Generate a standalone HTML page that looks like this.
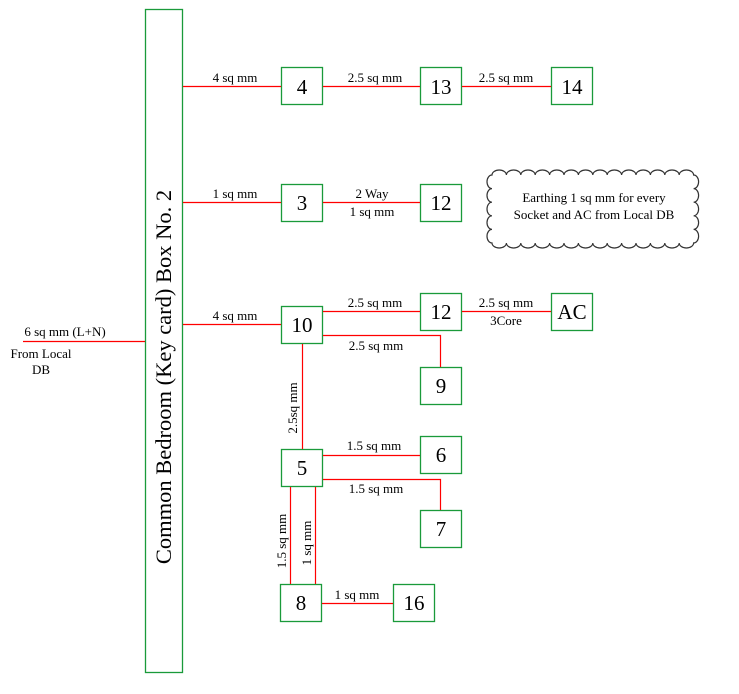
<!DOCTYPE html>
<html><head><meta charset="utf-8"><style>
html,body{margin:0;padding:0;background:#fff;}
svg text{font-family:"Liberation Serif",serif;fill:#000;}
.l{font-size:13px;}
.b{font-size:21px;}
</style></head><body>
<svg width="739" height="689" viewBox="0 0 739 689" xmlns="http://www.w3.org/2000/svg">
<g fill="#fff" stroke="#1a9a3a" stroke-width="1.3">
<rect x="145.5" y="9.5" width="37" height="663"/>
<rect x="281.5" y="67.5" width="41" height="37"/>
<rect x="420.5" y="67.5" width="41" height="37"/>
<rect x="551.5" y="67.5" width="41" height="37"/>
<rect x="281.5" y="184.5" width="41" height="37"/>
<rect x="420.5" y="184.5" width="41" height="37"/>
<rect x="281.5" y="306.5" width="41" height="37"/>
<rect x="420.5" y="293.5" width="41" height="37"/>
<rect x="551.5" y="293.5" width="41" height="37"/>
<rect x="420.5" y="367.5" width="41" height="37"/>
<rect x="281.5" y="449.5" width="41" height="37"/>
<rect x="420.5" y="436.5" width="41" height="37"/>
<rect x="420.5" y="510.5" width="41" height="37"/>
<rect x="280.5" y="584.5" width="41" height="37"/>
<rect x="393.5" y="584.5" width="41" height="37"/>
</g>
<g stroke="#f00" stroke-width="1.2" fill="none">
<line x1="23" y1="341.5" x2="145" y2="341.5"/>
<line x1="183" y1="86.5" x2="281" y2="86.5"/>
<line x1="323" y1="86.5" x2="420" y2="86.5"/>
<line x1="462" y1="86.5" x2="551" y2="86.5"/>
<line x1="183" y1="202.5" x2="281" y2="202.5"/>
<line x1="323" y1="202.5" x2="420" y2="202.5"/>
<line x1="183" y1="324.5" x2="281" y2="324.5"/>
<line x1="323" y1="311.5" x2="420" y2="311.5"/>
<line x1="462" y1="311.5" x2="551" y2="311.5"/>
<polyline points="323,335.5 440.5,335.5 440.5,367"/>
<line x1="302.5" y1="344" x2="302.5" y2="449"/>
<line x1="323" y1="455.5" x2="420" y2="455.5"/>
<polyline points="323,479.5 440.5,479.5 440.5,510"/>
<line x1="290.5" y1="487" x2="290.5" y2="584"/>
<line x1="315.5" y1="487" x2="315.5" y2="584"/>
<line x1="322" y1="603.5" x2="393" y2="603.5"/>
</g>
<path fill="#fff" stroke="#333" stroke-width="1.2" d="M492,175 a7.2 5 0 0 1 14.4 0 a7.2 5 0 0 1 14.4 0 a7.2 5 0 0 1 14.4 0 a7.2 5 0 0 1 14.4 0 a7.2 5 0 0 1 14.4 0 a7.2 5 0 0 1 14.4 0 a7.2 5 0 0 1 14.4 0 a7.2 5 0 0 1 14.4 0 a7.2 5 0 0 1 14.4 0 a7.2 5 0 0 1 14.4 0 a7.2 5 0 0 1 14.4 0 a7.2 5 0 0 1 14.4 0 a7.2 5 0 0 1 14.4 0 a7.2 5 0 0 1 14.4 0 a5 6.8 0 0 1 0 13.6 a5 6.8 0 0 1 0 13.6 a5 6.8 0 0 1 0 13.6 a5 6.8 0 0 1 0 13.6 a5 6.8 0 0 1 0 13.6 a7.2 5 0 0 1 -14.4 0 a7.2 5 0 0 1 -14.4 0 a7.2 5 0 0 1 -14.4 0 a7.2 5 0 0 1 -14.4 0 a7.2 5 0 0 1 -14.4 0 a7.2 5 0 0 1 -14.4 0 a7.2 5 0 0 1 -14.4 0 a7.2 5 0 0 1 -14.4 0 a7.2 5 0 0 1 -14.4 0 a7.2 5 0 0 1 -14.4 0 a7.2 5 0 0 1 -14.4 0 a7.2 5 0 0 1 -14.4 0 a7.2 5 0 0 1 -14.4 0 a7.2 5 0 0 1 -14.4 0 a5 6.8 0 0 1 0 -13.6 a5 6.8 0 0 1 0 -13.6 a5 6.8 0 0 1 0 -13.6 a5 6.8 0 0 1 0 -13.6 a5 6.8 0 0 1 0 -13.6 Z"/>
<text class="l" x="594" y="202" text-anchor="middle">Earthing 1 sq mm for every</text>
<text class="l" x="594" y="219" text-anchor="middle">Socket and AC from Local DB</text>

<text x="171" y="377" font-size="22.5" text-anchor="middle" transform="rotate(-90 171 377)">Common Bedroom (Key card) Box No. 2</text>

<g class="b" text-anchor="middle">
<text x="302" y="94">4</text>
<text x="441" y="94">13</text>
<text x="572" y="94">14</text>
<text x="302" y="210">3</text>
<text x="441" y="210">12</text>
<text x="302" y="332">10</text>
<text x="441" y="319">12</text>
<text x="572" y="319">AC</text>
<text x="441" y="393">9</text>
<text x="302" y="475">5</text>
<text x="441" y="462">6</text>
<text x="441" y="536">7</text>
<text x="301" y="610">8</text>
<text x="414" y="610">16</text>
</g>
<g class="l" text-anchor="middle">
<text x="235" y="82">4 sq mm</text>
<text x="375" y="82">2.5 sq mm</text>
<text x="506" y="82">2.5 sq mm</text>
<text x="235" y="198">1 sq mm</text>
<text x="372" y="198">2 Way</text>
<text x="372" y="216">1 sq mm</text>
<text x="235" y="320">4 sq mm</text>
<text x="375" y="307">2.5 sq mm</text>
<text x="506" y="307">2.5 sq mm</text>
<text x="506" y="325">3Core</text>
<text x="376" y="350">2.5 sq mm</text>
<text x="374" y="450">1.5 sq mm</text>
<text x="376" y="493">1.5 sq mm</text>
<text x="357" y="599">1 sq mm</text>
<text x="65" y="336">6 sq mm (L+N)</text>
<text x="41" y="358">From Local</text>
<text x="41" y="374">DB</text>
</g>
<g class="l" text-anchor="middle">
<text x="297" y="408" transform="rotate(-90 297 408)">2.5sq mm</text>
<text x="286" y="541" transform="rotate(-90 286 541)">1.5 sq mm</text>
<text x="311" y="543" transform="rotate(-90 311 543)">1 sq mm</text>
</g>
</svg>
</body></html>
